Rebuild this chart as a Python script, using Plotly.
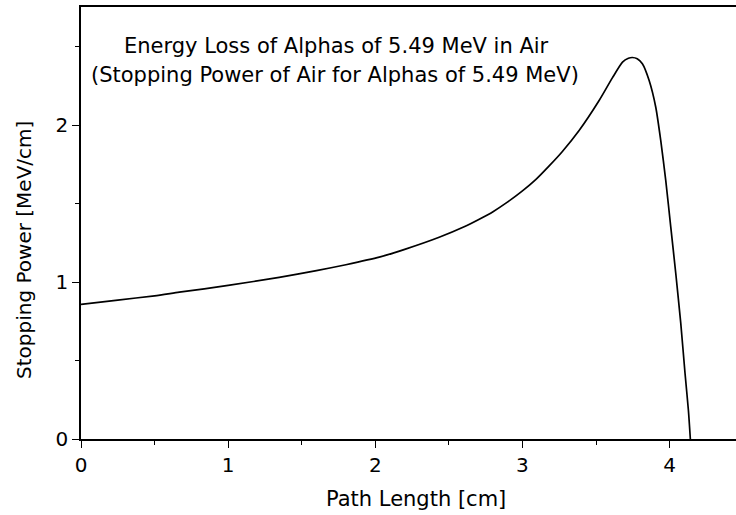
import plotly.graph_objects as go

# Data (Bragg curve of 5.49 MeV alphas in air)
path_cm = [0.0, 0.25, 0.5, 0.668, 1.0, 1.347, 1.6, 1.8, 2.027, 2.2, 2.434,
           2.6, 2.7, 2.8, 2.9, 3.0, 3.09, 3.18, 3.27, 3.385, 3.521, 3.611,
           3.68, 3.72, 3.747, 3.78, 3.815, 3.861, 3.906, 3.94, 3.974, 4.008,
           4.042, 4.076, 4.105, 4.128, 4.141]
stopping_power = [0.857, 0.885, 0.912, 0.935, 0.978, 1.03, 1.072, 1.11, 1.158,
                  1.208, 1.285, 1.35, 1.397, 1.448, 1.51, 1.58, 1.652, 1.738,
                  1.83, 1.965, 2.156, 2.30, 2.40, 2.425, 2.43, 2.422, 2.39,
                  2.283, 2.113, 1.90, 1.646, 1.349, 1.054, 0.736, 0.417, 0.18,
                  0.0]

x_ticks = [0, 1, 2, 3, 4]
y_ticks = [0, 1, 2]

title_line1 = "Energy Loss of Alphas of 5.49 MeV in Air"
title_line2 = "(Stopping Power of Air for Alphas of 5.49 MeV)"
x_title = "Path Length [cm]"
y_title = "Stopping Power [MeV/cm]"

FONT = "DejaVu Sans, Liberation Sans, Arial, sans-serif"
FS = 20
FS_TITLE = 21

fig = go.Figure()
fig.add_trace(go.Scatter(
    x=path_cm, y=stopping_power, mode="lines",
    line=dict(color="black", width=1.7, shape="spline", smoothing=0.6),
    showlegend=False, hoverinfo="skip",
))

axis_common = dict(
    showgrid=False, zeroline=False, showline=True, linecolor="black",
    linewidth=1.6, ticks="outside", ticklen=7, tickwidth=1.4, tickcolor="black",
    tickfont=dict(family=FONT, size=FS, color="black"),
)

W, H = 736, 515
L, R, T, B = 81, 0, 7, 76
pw, ph = W - L - R, H - T - B
XPX_PER_UNIT = 147.15
YPX_PER_UNIT = 157.0

fig.update_xaxes(
    range=[0, pw / XPX_PER_UNIT], tickvals=x_ticks,
    ticktext=[str(v) for v in x_ticks], mirror=True,
    minor=dict(dtick=0.5, tick0=0, ticks="outside", ticklen=4, tickwidth=1.4,
               tickcolor="black", showgrid=False),
    **axis_common,
)
fig.update_yaxes(
    range=[0, ph / YPX_PER_UNIT], tickvals=y_ticks,
    ticktext=[str(v) for v in y_ticks],
    minor=dict(dtick=0.5, tick0=0, ticks="outside", ticklen=4, tickwidth=1.4,
               tickcolor="black", showgrid=False),
    **axis_common,
)


def px(xw):
    return (xw - L) / pw


def py(yw):
    return (H - B - yw) / ph


ann_font = dict(family=FONT, size=FS_TITLE, color="black")
fig.update_layout(
    width=W, height=H,
    margin=dict(l=L, r=R, t=T, b=B, pad=0),
    paper_bgcolor="white", plot_bgcolor="white",
    font=dict(family=FONT, size=FS, color="black"),
    annotations=[
        dict(text=title_line1, x=px(336), y=py(46), xref="paper", yref="paper",
             showarrow=False, xanchor="center", yanchor="middle", font=ann_font),
        dict(text=title_line2, x=px(335), y=py(75), xref="paper", yref="paper",
             showarrow=False, xanchor="center", yanchor="middle", font=ann_font),
        dict(text=x_title, x=px(416), y=py(499), xref="paper", yref="paper",
             showarrow=False, xanchor="center", yanchor="middle", font=ann_font),
        dict(text=y_title, x=px(24), y=py(250), xref="paper", yref="paper",
             showarrow=False, xanchor="center", yanchor="middle", textangle=-90,
             font=dict(family=FONT, size=FS, color="black")),
    ],
)

fig.write_html(
    "out.html",
    config={"displayModeBar": False},
    post_script="document.body.style.margin='0';document.body.style.overflow='hidden';",
)
